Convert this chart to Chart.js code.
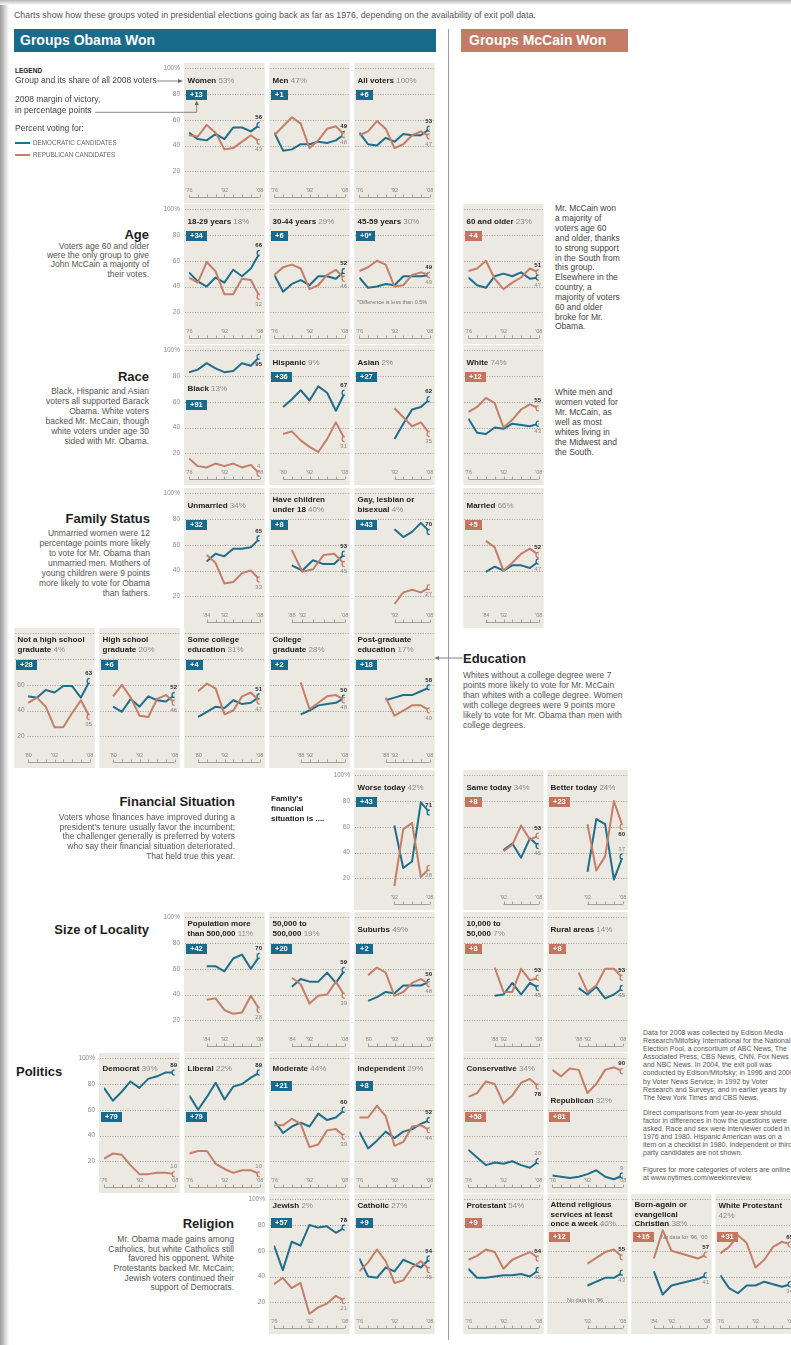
<!DOCTYPE html>
<html>
<head>
<meta charset="utf-8">
<script src="https://cdn.jsdelivr.net/npm/chart.js@4.4.1/dist/chart.umd.min.js"></script>
<style>
  html, body { margin: 0; padding: 0; }
  body { width: 791px; height: 1345px; position: relative; overflow: hidden; background: #fff;
         font-family: 'Liberation Sans', Arial, sans-serif; color: #333; }
  .a { position: absolute; white-space: nowrap; z-index: 2; }
  canvas { position: absolute; z-index: 1; }
  .ttl { font-size: 8px; line-height: 9.5px; font-weight: bold; color: #222; }
  .ttl span { font-weight: normal; color: #8c8c8c; }
  .box { position: absolute; z-index: 2; height: 10px; line-height: 10px; font-size: 7.5px; font-weight: bold; color: #fff; padding: 0 4px; }
  .sec { font-size: 13px; font-weight: bold; color: #1e1e1e; line-height: 15px; }
  .desc { font-size: 8.5px; color: #555; }
  .note { font-size: 5.5px; color: #777; }
</style>
</head>
<body>
<div class="a" style="left:0;top:0;width:9px;height:1345px;background:linear-gradient(to right,#9a9a9a,#fff);"></div>
<div class="a" style="left:0;top:0;width:791px;height:5px;background:linear-gradient(to bottom,#b5b5b5,#fff);"></div>

<div class="a" style="left:14px;top:10px;font-size:8.8px;line-height:10px;color:#555;">Charts show how these groups voted in presidential elections going back as far as 1976, depending on the availability of exit poll data.</div>

<div class="a" style="left:14px;top:29px;width:416px;height:23px;padding-left:6px;background:#186b8b;color:#fff;font-size:14px;font-weight:bold;line-height:23px;">Groups Obama Won</div>
<div class="a" style="left:461px;top:29px;width:159px;height:23px;padding-left:8px;background:#c37a66;color:#fff;font-size:14px;font-weight:bold;line-height:23px;">Groups McCain Won</div>
<div class="a" style="left:447.5px;top:29px;width:1.5px;height:1311px;background:#9a9a9a;"></div>

<!-- legend -->
<div class="a" style="left:15px;top:67px;font-size:6.5px;font-weight:bold;color:#222;">LEGEND</div>
<div class="a desc" style="left:15px;top:76px;line-height:9.5px;color:#444;">Group and its share of all 2008 voters</div>
<div class="a desc" style="left:15px;top:93.5px;line-height:11.7px;color:#444;">2008 margin of victory,<br>in percentage points</div>
<div class="a desc" style="left:15px;top:123.5px;line-height:9.5px;color:#444;">Percent voting for:</div>
<div class="a" style="left:15px;top:141.7px;width:15px;height:2px;background:#1f6e8c;"></div>
<div class="a" style="left:33px;top:139px;font-size:6.3px;color:#666;">DEMOCRATIC CANDIDATES</div>
<div class="a" style="left:15px;top:153.7px;width:15px;height:2px;background:#c47e69;"></div>
<div class="a" style="left:33px;top:151px;font-size:6.3px;color:#666;">REPUBLICAN CANDIDATES</div>
<svg class="a" style="left:0;top:60px;" width="210" height="60">
  <line x1="157" y1="21" x2="179" y2="21" stroke="#666" stroke-width="0.8"/>
  <polygon points="183,21 178,19 178,23" fill="#666"/>
  <polyline points="95,52.3 196.7,52.3 196.7,44" fill="none" stroke="#666" stroke-width="0.8"/>
  <polygon points="196.7,40.5 194.7,45 198.7,45" fill="#666"/>
</svg>

<!-- section texts -->
<div class="a sec" style="right:642px;top:226.5px;text-align:right;">Age</div>
<div class="a desc" style="right:642px;top:242px;line-height:9.2px;text-align:right;">Voters age 60 and older<br>were the only group to give<br>John McCain a majority of<br>their votes.</div>

<div class="a desc" style="left:555px;top:204.4px;line-height:9.83px;color:#444;">Mr. McCain won<br>a majority of<br>voters age 60<br>and older, thanks<br>to strong support<br>in the South from<br>this group.<br>Elsewhere in the<br>country, a<br>majority of voters<br>60 and older<br>broke for Mr.<br>Obama.</div>

<div class="a sec" style="right:642px;top:369.2px;text-align:right;">Race</div>
<div class="a desc" style="right:642px;top:386px;line-height:10px;text-align:right;">Black, Hispanic and Asian<br>voters all supported Barack<br>Obama. White voters<br>backed Mr. McCain, though<br>white voters under age 30<br>sided with Mr. Obama.</div>

<div class="a desc" style="left:555px;top:388.4px;line-height:9.9px;color:#444;">White men and<br>women voted for<br>Mr. McCain, as<br>well as most<br>whites living in<br>the Midwest and<br>the South.</div>

<div class="a sec" style="right:641px;top:510.8px;text-align:right;">Family Status</div>
<div class="a desc" style="right:641px;top:528.3px;line-height:10px;text-align:right;">Unmarried women were 12<br>percentage points more likely<br>to vote for Mr. Obama than<br>unmarried men. Mothers of<br>young children were 9 points<br>more likely to vote for Obama<br>than fathers.</div>

<div class="a sec" style="left:463px;top:650.5px;">Education</div>
<div class="a desc" style="left:463px;top:670px;line-height:10px;">Whites without a college degree were 7<br>points more likely to vote for Mr. McCain<br>than whites with a college degree. Women<br>with college degrees were 9 points more<br>likely to vote for Mr. Obama than men with<br>college degrees.</div>
<svg class="a" style="left:434px;top:654px;" width="30" height="8">
  <line x1="4" y1="4" x2="29" y2="4" stroke="#777" stroke-width="0.9"/>
  <polygon points="0,4 5,2 5,6" fill="#777"/>
</svg>

<div class="a sec" style="right:556px;top:794.2px;text-align:right;">Financial Situation</div>
<div class="a desc" style="right:556px;top:812.8px;line-height:9.75px;text-align:right;">Voters whose finances have improved during a<br>president's tenure usually favor the incumbent;<br>the challenger generally is preferred by voters<br>who say their financial situation deteriorated.<br>That held true this year.</div>
<div class="a" style="left:271px;top:794.3px;font-size:8px;line-height:10px;font-weight:bold;color:#222;">Family's<br>financial<br>situation is ....</div>

<div class="a sec" style="right:642px;top:921.5px;text-align:right;">Size of Locality</div>

<div class="a sec" style="left:16px;top:1063.5px;">Politics</div>

<div class="a sec" style="right:557px;top:1215.5px;text-align:right;">Religion</div>
<div class="a desc" style="right:557px;top:1235.2px;line-height:9.6px;text-align:right;">Mr. Obama made gains among<br>Catholics, but white Catholics still<br>favored his opponent. White<br>Protestants backed Mr. McCain;<br>Jewish voters continued their<br>support of Democrats.</div>

<div class="a" style="left:643px;top:1029px;font-size:7px;line-height:8.1px;color:#555;">Data for 2008 was collected by Edison Media<br>Research/Mitofsky International for the National<br>Election Pool, a consortium of ABC News, The<br>Associated Press, CBS News, CNN, Fox News<br>and NBC News. In 2004, the exit poll was<br>conducted by Edison/Mitofsky; in 1996 and 2000<br>by Voter News Service; in 1992 by Voter<br>Research and Surveys; and in earlier years by<br>The New York Times and CBS News.</div>
<div class="a" style="left:643px;top:1109px;font-size:7px;line-height:8.1px;color:#555;">Direct comparisons from year-to-year should<br>factor in differences in how the questions were<br>asked. Race and sex were interviewer coded in<br>1976 and 1980. Hispanic American was on a<br>item on a checklist in 1980. Independent or third<br>party candidates are not shown.</div>
<div class="a" style="left:643px;top:1166px;font-size:7px;line-height:8.1px;color:#555;">Figures for more categories of voters are online<br>at www.nytimes.com/weekinreview.</div>

<script>
// election years on every x axis
const years = [1976, 1980, 1984, 1988, 1992, 1996, 2000, 2004, 2008];
const gridValues = [20, 40, 60, 80, 100];
const outerTicks = [100, 80, 60, 40, 20];
const innerTicks = [60, 40, 20];
const _ = null;

// percent voting Democratic / Republican, by year
const womenDem = [50, 45, 44, 49, 45, 54, 54, 51, 56];
const womenRep = [48, 47, 56, 50, 37, 38, 43, 48, 43];
const menDem = [50, 36, 37, 41, 41, 43, 42, 44, 49];
const menRep = [48, 55, 62, 57, 38, 44, 53, 55, 48];
const allDem = [50, 41, 40, 46, 43, 49, 48, 48, 53];
const allRep = [48, 51, 59, 53, 38, 41, 48, 51, 47];

const age1829Dem = [51, 44, 40, 47, 43, 53, 48, 54, 66];
const age1829Rep = [47, 43, 59, 52, 34, 34, 46, 45, 32];
const age3044Dem = [49, 36, 42, 45, 41, 48, 48, 46, 52];
const age3044Rep = [49, 55, 57, 54, 38, 41, 49, 53, 46];
const age4559Dem = [47, 39, 40, 42, 41, 48, 48, 48, 49];
const age4559Rep = [52, 55, 60, 57, 40, 41, 49, 51, 49];
const age60Dem = [47, 41, 39, 48, 50, 48, 51, 46, 47];
const age60Rep = [52, 54, 60, 46, 38, 43, 47, 54, 51];

const blackDem = [83, 85, 90, 86, 83, 84, 90, 88, 95];
const blackRep = [16, 10, 9, 12, 10, 12, 9, 11, 4];
const hispDem = [_, 56, 62, 69, 61, 72, 67, 53, 67];
const hispRep = [_, 35, 37, 30, 25, 21, 31, 44, 31];
const asianDem = [_, _, _, _, 31, 43, 54, 56, 62];
const asianRep = [_, _, _, _, 55, 48, 41, 44, 35];
const whiteDem = [47, 36, 35, 40, 39, 43, 42, 41, 43];
const whiteRep = [52, 56, 63, 59, 40, 46, 54, 58, 55];

const unmarDem = [_, _, 47, 53, 51, 57, 57, 58, 65];
const unmarRep = [_, _, 52, 46, 30, 31, 38, 40, 33];
const kidsDem = [_, _, _, 44, 40, 48, 45, 45, 53];
const kidsRep = [_, _, _, 56, 39, 41, 52, 53, 45];
const gayDem = [_, _, _, _, 72, 66, 70, 77, 70];
const gayRep = [_, _, _, _, 14, 23, 25, 23, 27];
const marDem = [_, _, 39, 43, 40, 44, 44, 42, 47];
const marRep = [_, _, 63, 58, 40, 46, 53, 57, 52];

const noHsDem = [_, 51, 50, 56, 54, 59, 59, 50, 63];
const noHsRep = [_, 46, 50, 43, 27, 27, 38, 48, 35];
const hsDem = [_, 43, 39, 49, 43, 51, 48, 47, 52];
const hsRep = [_, 51, 60, 50, 36, 35, 49, 52, 46];
const someColDem = [_, 35, 39, 43, 42, 48, 45, 46, 51];
const someColRep = [_, 55, 61, 57, 37, 40, 51, 54, 47];
const colGradDem = [_, _, _, 37, 40, 44, 45, 46, 50];
const colGradRep = [_, _, _, 62, 41, 46, 51, 52, 48];
const postGradDem = [_, _, _, 48, 50, 52, 52, 55, 58];
const postGradRep = [_, _, _, 50, 36, 40, 44, 44, 40];

const worseDem = [_, _, _, _, 61, 28, 33, 79, 71];
const worseRep = [_, _, _, _, 14, 58, 63, 21, 28];
const sameDem = [_, _, _, _, 42, 47, 36, 51, 45];
const sameRep = [_, _, _, _, 41, 46, 61, 50, 53];
const betterDem = [_, _, _, _, 25, 66, 62, 19, 37];
const betterRep = [_, _, _, _, 62, 26, 37, 80, 60];

const bigCityDem = [_, _, 62, 62, 58, 68, 71, 60, 70];
const bigCityRep = [_, _, 36, 37, 28, 25, 26, 39, 28];
const midCityDem = [_, _, 46, 52, 50, 50, 57, 49, 59];
const midCityRep = [_, _, 53, 48, 33, 39, 40, 50, 39];
const suburbDem = [_, 35, 38, 42, 41, 47, 47, 47, 50];
const suburbRep = [_, 55, 61, 57, 39, 42, 49, 52, 48];
const smallCityDem = [_, _, _, 39, 40, 49, 40, 49, 45];
const smallCityRep = [_, _, _, 61, 42, 42, 60, 51, 53];
const ruralDem = [_, _, _, 45, 40, 46, 37, 40, 45];
const ruralRep = [_, _, _, 57, 42, 47, 60, 60, 53];

const democratDem = [77, 67, 74, 82, 77, 84, 86, 89, 89];
const democratRep = [22, 26, 25, 17, 10, 10, 11, 11, 10];
const liberalDem = [71, 60, 70, 81, 68, 78, 80, 85, 89];
const liberalRep = [26, 28, 28, 18, 14, 11, 13, 13, 10];
const moderateDem = [51, 42, 47, 50, 47, 57, 52, 54, 60];
const moderateRep = [48, 48, 53, 49, 31, 33, 44, 45, 39];
const independentDem = [43, 30, 36, 43, 38, 43, 45, 49, 52];
const independentRep = [54, 54, 63, 55, 32, 35, 47, 48, 44];
const conservativeDem = [29, 23, 17, 19, 18, 20, 17, 15, 20];
const conservativeRep = [70, 73, 82, 80, 65, 71, 81, 84, 78];
const republicanDem = [9, 8, 7, 8, 10, 13, 8, 6, 9];
const republicanRep = [91, 86, 92, 91, 73, 80, 91, 93, 90];

const jewishDem = [64, 45, 67, 64, 80, 78, 79, 74, 78];
const jewishRep = [34, 39, 31, 35, 11, 16, 19, 25, 21];
const catholicDem = [54, 40, 39, 47, 44, 53, 50, 47, 54];
const catholicRep = [44, 51, 61, 52, 35, 37, 47, 52, 45];
const protestantDem = [46, 39, 39, 40, 41, 41, 42, 40, 45];
const protestantRep = [53, 56, 61, 59, 46, 53, 56, 59, 54];
const attendDem = [_, _, _, _, 33, _, 39, 39, 43];
const attendRep = [_, _, _, _, 50, _, 59, 61, 55];
const bornAgainDem = [_, _, 44, 26, 33, _, _, 38, 41];
const bornAgainRep = [_, _, 54, 76, 60, _, _, 54, 57];
const whiteProtDem = [41, 31, 27, 33, 33, 36, 34, 32, 34];
const whiteProtRep = [58, 63, 72, 66, 47, 53, 63, 67, 65];

// look
const DEM = '#1f6e8c', REP = '#c47e69', PANEL_BG = '#ebe9e1';
const OB_BOX = '#186b8c', MC_BOX = '#c4745f';
const FONT = '"Liberation Sans", Arial, sans-serif';
const ROW_Y100 = [68, 209, 350, 493, 633, 775, 917, 1058, 1199];
const ROW_TITLE = [13.25, 13.25, 13.25, 13.25, 7.25, 13.25, 13.25, 11.25, 7.25];
const ROW_BOX = [27, 27, 27, 31.5, 31.5, 27, 31.5, 28, 24];
const PANEL_W = 81, PANEL_H = 140, AXIS_W = 30;

const panels = [
  { r: 0, c: 184, t: ['Women'], s: '53%', m: '+13', d: womenDem, p: womenRep, axis: 'out' },
  { r: 0, c: 269, t: ['Men'], s: '47%', m: '+1', d: menDem, p: menRep },
  { r: 0, c: 354, t: ['All voters'], s: '100%', m: '+6', d: allDem, p: allRep },

  { r: 1, c: 184, t: ['18-29 years'], s: '18%', m: '+34', d: age1829Dem, p: age1829Rep, axis: 'out' },
  { r: 1, c: 269, t: ['30-44 years'], s: '29%', m: '+6', d: age3044Dem, p: age3044Rep },
  { r: 1, c: 354, t: ['45-59 years'], s: '30%', m: '+0*', d: age4559Dem, p: age4559Rep,
    notes: [{ dx: 3, dy: 95, text: '*Difference is less than 0.5%' }] },
  { r: 1, c: 463, t: ['60 and older'], s: '23%', m: '+4', d: age60Dem, p: age60Rep, side: 'm' },

  { r: 2, c: 184, t: ['Black'], s: '13%', m: '+91', d: blackDem, p: blackRep, axis: 'out', ty: 39.25, by: 55 },
  { r: 2, c: 269, t: ['Hispanic'], s: '9%', m: '+36', d: hispDem, p: hispRep },
  { r: 2, c: 354, t: ['Asian'], s: '2%', m: '+27', d: asianDem, p: asianRep },
  { r: 2, c: 463, t: ['White'], s: '74%', m: '+12', d: whiteDem, p: whiteRep, side: 'm' },

  { r: 3, c: 184, t: ['Unmarried'], s: '34%', m: '+32', d: unmarDem, p: unmarRep, axis: 'out' },
  { r: 3, c: 269, t: ['Have children', 'under 18'], s: '40%', m: '+8', d: kidsDem, p: kidsRep, xMin: 1981.4 },
  { r: 3, c: 354, t: ['Gay, lesbian or', 'bisexual'], s: '4%', m: '+43', d: gayDem, p: gayRep },
  { r: 3, c: 463, t: ['Married'], s: '66%', m: '+5', d: marDem, p: marRep, side: 'm' },

  { r: 4, c: 14, t: ['Not a high school', 'graduate'], s: '4%', m: '+28', d: noHsDem, p: noHsRep, axis: 'in' },
  { r: 4, c: 99, t: ['High school', 'graduate'], s: '20%', m: '+6', d: hsDem, p: hsRep },
  { r: 4, c: 184, t: ['Some college', 'education'], s: '31%', m: '+4', d: someColDem, p: someColRep },
  { r: 4, c: 269, t: ['College', 'graduate'], s: '28%', m: '+2', d: colGradDem, p: colGradRep },
  { r: 4, c: 354, t: ['Post-graduate', 'education'], s: '17%', m: '+18', d: postGradDem, p: postGradRep },

  { r: 5, c: 354, t: ['Worse today'], s: '42%', m: '+43', d: worseDem, p: worseRep, axis: 'out' },
  { r: 5, c: 463, t: ['Same today'], s: '34%', m: '+8', d: sameDem, p: sameRep, side: 'm' },
  { r: 5, c: 547, t: ['Better today'], s: '24%', m: '+23', d: betterDem, p: betterRep, side: 'm', flip: true },

  { r: 6, c: 184, t: ['Population more', 'than 500,000'], s: '11%', m: '+42', d: bigCityDem, p: bigCityRep, axis: 'out' },
  { r: 6, c: 269, t: ['50,000 to', '500,000'], s: '19%', m: '+20', d: midCityDem, p: midCityRep },
  { r: 6, c: 354, t: ['Suburbs'], s: '49%', m: '+2', d: suburbDem, p: suburbRep },
  { r: 6, c: 463, t: ['10,000 to', '50,000'], s: '7%', m: '+8', d: smallCityDem, p: smallCityRep, side: 'm' },
  { r: 6, c: 547, t: ['Rural areas'], s: '14%', m: '+8', d: ruralDem, p: ruralRep, side: 'm' },

  { r: 7, c: 99, t: ['Democrat'], s: '39%', m: '+79', d: democratDem, p: democratRep, axis: 'out', by: 59 },
  { r: 7, c: 184, t: ['Liberal'], s: '22%', m: '+79', d: liberalDem, p: liberalRep, by: 59 },
  { r: 7, c: 269, t: ['Moderate'], s: '44%', m: '+21', d: moderateDem, p: moderateRep },
  { r: 7, c: 354, t: ['Independent'], s: '29%', m: '+8', d: independentDem, p: independentRep },
  { r: 7, c: 463, t: ['Conservative'], s: '34%', m: '+58', d: conservativeDem, p: conservativeRep, side: 'm', by: 59, flip: true },
  { r: 7, c: 547, t: ['Republican'], s: '32%', m: '+81', d: republicanDem, p: republicanRep, side: 'm', ty: 43.25, by: 59 },

  { r: 8, c: 269, t: ['Jewish'], s: '2%', m: '+57', d: jewishDem, p: jewishRep, axis: 'out' },
  { r: 8, c: 354, t: ['Catholic'], s: '27%', m: '+9', d: catholicDem, p: catholicRep },
  { r: 8, c: 463, t: ['Protestant'], s: '54%', m: '+9', d: protestantDem, p: protestantRep, side: 'm' },
  { r: 8, c: 547, t: ['Attend religious', 'services at least', 'once a week'], s: '40%', m: '+12', d: attendDem, p: attendRep,
    side: 'm', ty: 6, by: 38, notes: [{ dx: 20, dy: 103, text: 'No data for \u201996' }] },
  { r: 8, c: 631, t: ['Born-again or', 'evangelical', 'Christian'], s: '38%', m: '+16', d: bornAgainDem, p: bornAgainRep,
    side: 'm', ty: 6, by: 38, notes: [{ dx: 30, dy: 40, text: 'No data for \u201996, \u201900' }] },
  { r: 8, c: 715, t: ['White Protestant', ''], s: '42%', m: '+31', d: whiteProtDem, p: whiteProtRep, side: 'm', by: 38 },
];

// panel background, dotted grid, y tick labels, year axis and end values
const panelPlugin = {
  id: 'panel',
  beforeDraw(chart, args, o) {
    const { ctx, chartArea: a, scales: { x, y } } = chart;
    const L = a.left - 5, R = a.right + 5;
    ctx.save();
    ctx.fillStyle = PANEL_BG;
    ctx.fillRect(L, 0, R - L, chart.height);

    ctx.strokeStyle = '#a3a19a';
    ctx.lineWidth = 1;
    ctx.setLineDash([1, 1.5]);
    gridValues.forEach(v => {
      const py = Math.round(y.getPixelForValue(v)) + 0.5;
      const x0 = o.axis === 'in' && innerTicks.includes(v) ? L + 13 : L + 1;
      ctx.beginPath();
      ctx.moveTo(x0, py);
      ctx.lineTo(R - 1, py);
      ctx.stroke();
    });
    ctx.setLineDash([]);

    ctx.font = '6.5px ' + FONT;
    ctx.fillStyle = '#8a8a8a';
    ctx.textBaseline = 'middle';
    if (o.axis === 'out') {
      ctx.textAlign = 'right';
      outerTicks.forEach(v => ctx.fillText(v === 100 ? '100%' : String(v), a.left - 9, y.getPixelForValue(v)));
    } else if (o.axis === 'in') {
      ctx.textAlign = 'left';
      innerTicks.forEach(v => ctx.fillText(String(v), L + 3, y.getPixelForValue(v)));
    }

    const y0 = Math.round(y.getPixelForValue(0)) + 0.5;
    ctx.strokeStyle = '#8d8d8d';
    ctx.lineWidth = 0.8;
    ctx.beginPath();
    ctx.moveTo(x.getPixelForValue(o.from), y0);
    ctx.lineTo(x.getPixelForValue(2008), y0);
    years.filter(yr => yr >= o.from).forEach(yr => {
      const px = Math.round(x.getPixelForValue(yr)) + 0.5;
      ctx.moveTo(px, y0);
      ctx.lineTo(px, y0 - 3);
    });
    ctx.stroke();
    ctx.font = '5.5px ' + FONT;
    ctx.textAlign = 'center';
    o.yearLabels.forEach(yr => ctx.fillText('\u2019' + String(yr).slice(2), x.getPixelForValue(yr), y0 - 7));
    ctx.restore();
  },
  afterDatasetsDraw(chart, args, o) {
    const { ctx, chartArea: a } = chart;
    const ends = chart.data.datasets.map((ds, i) => {
      const pts = chart.getDatasetMeta(i).data;
      const el = pts[pts.length - 1];
      return { v: ds.data[ds.data.length - 1].y, x: el.x, y: el.y };
    });
    const rep = ends[0], dem = ends[1];
    const hi = dem.v >= rep.v ? dem : rep;
    const lo = hi === dem ? rep : dem;
    const R = a.right + 5;
    ctx.save();
    ctx.textAlign = 'center';
    ctx.textBaseline = 'middle';
    const put = (e, bold, up) => {
      ctx.font = (bold ? 'bold ' : '') + '6px ' + FONT;
      ctx.fillStyle = bold ? '#2a2a2a' : '#8a8a8a';
      const txt = String(e.v);
      const w = ctx.measureText(txt).width;
      const cx = Math.min(e.x - 1, R - 1.5 - w / 2);
      ctx.fillText(txt, cx, e.y + (up ? -7.5 : 7.5));
    };
    put(hi, true, o.flip ? false : hi.v <= 92);
    put(lo, false, o.flip ? true : lo.v < 15);
    ctx.restore();
  }
};

function series(values, color) {
  return {
    data: years.map((yr, i) => ({ x: yr, y: values[i] })),
    borderColor: color,
    borderWidth: 2,
    borderJoinStyle: 'round',
    tension: 0,
    spanGaps: true,
    segment: { borderDash: c => (c.p1DataIndex - c.p0DataIndex > 1 ? [2, 1.5] : undefined) },
    pointRadius: c => (c.dataIndex === years.length - 1 ? 2.6 : 0),
    pointBorderWidth: 1.3,
    pointBorderColor: color,
    pointBackgroundColor: PANEL_BG
  };
}

function addDiv(cls, left, top, html, extra) {
  const el = document.createElement('div');
  el.className = cls;
  el.style.left = left + 'px';
  el.style.top = top + 'px';
  if (extra) Object.assign(el.style, extra);
  el.innerHTML = html;
  document.body.appendChild(el);
  return el;
}

panels.forEach(p => {
  const top = ROW_Y100[p.r] - 5;
  const ax = p.axis === 'out' ? AXIS_W : 0;
  const cv = document.createElement('canvas');
  cv.width = PANEL_W + ax;
  cv.height = PANEL_H;
  cv.style.left = (p.c - ax) + 'px';
  cv.style.top = top + 'px';
  document.body.appendChild(cv);

  const firstIdx = years.findIndex((yr, i) => p.d[i] != null || p.p[i] != null);
  const from = years[firstIdx];
  const yearLabels = from === 1992 ? [1992, 2008] : [from, 1992, 2008];

  new Chart(cv, {
    type: 'line',
    data: { datasets: [series(p.p, REP), series(p.d, DEM)] },
    options: {
      responsive: false,
      animation: false,
      devicePixelRatio: 1,
      events: [],
      layout: { padding: { left: 5 + ax, right: 5, top: 5, bottom: 6 } },
      scales: {
        x: { type: 'linear', min: p.xMin || 1976, max: 2008, display: false },
        y: { min: 0, max: 100, display: false }
      },
      plugins: {
        legend: { display: false },
        tooltip: { enabled: false },
        panel: { axis: p.axis, from: from, yearLabels: yearLabels, flip: !!p.flip }
      }
    },
    plugins: [panelPlugin]
  });

  const multi = p.t.length > 1;
  const ty = p.ty != null ? p.ty : (multi ? 7.25 : ROW_TITLE[p.r]);
  const html = p.t.map((l, i) => (i === p.t.length - 1 ? (l ? l + ' ' : '') + '<span>' + p.s + '</span>' : l)).join('<br>');
  addDiv('a ttl', p.c + 3.5, top + ty, html);

  const by = p.by != null ? p.by : ROW_BOX[p.r];
  addDiv('box', p.c + 2, top + by, p.m, { background: p.side === 'm' ? MC_BOX : OB_BOX });

  (p.notes || []).forEach(n => addDiv('a note', p.c + n.dx, top + n.dy, n.text));
});
</script>
</body>
</html>
